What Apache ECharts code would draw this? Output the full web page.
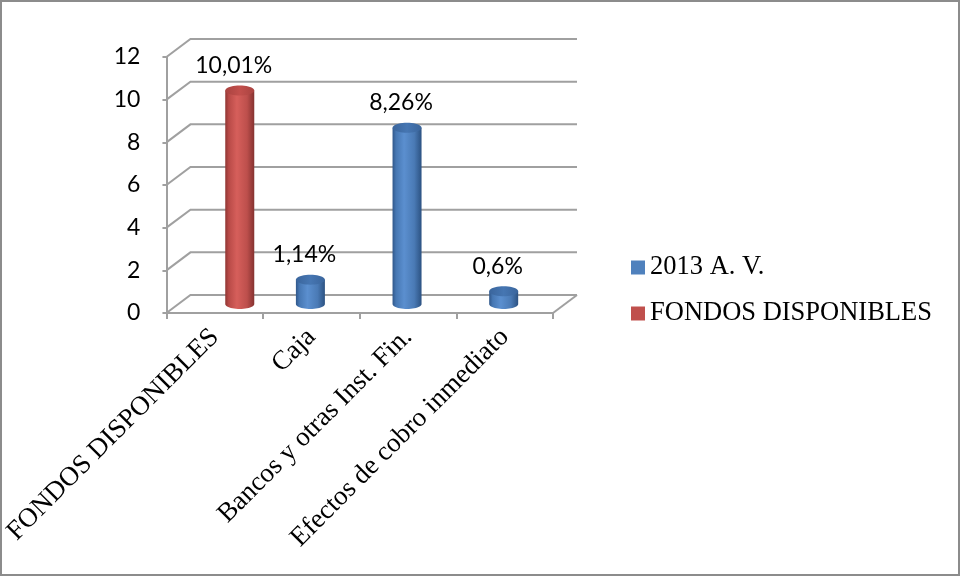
<!DOCTYPE html>
<html>
<head>
<meta charset="utf-8">
<script src="https://cdn.jsdelivr.net/npm/echarts@6/dist/echarts.min.js"></script>
<style>
  html, body { margin: 0; padding: 0; background: #fff; }
  #chart { width: 961px; height: 577px; }
</style>
</head>
<body>
<div id="chart"></div>
<script>
// ---- data ----
const categories = ['FONDOS DISPONIBLES', 'Caja', 'Bancos y otras Inst. Fin.', 'Efectos de cobro inmediato'];
const seriesNames = ['2013 A. V.', 'FONDOS DISPONIBLES'];
const blueValues = [null, 1.14, 8.26, 0.6];
const redValues = [10.01, null, null, null];
const yTicks = [0, 2, 4, 6, 8, 10, 12];

// ---- style constants ----
const DX = 24, DY = -18;          // 3D depth offset
const R = 14.5, RY = 5;           // cylinder radii
const GRIDC = '#a0a0a0';

function toPairs(vals) {
  const out = [];
  vals.forEach((v, i) => { if (v !== null) out.push([i, v]); });
  return out;
}
function fmt(v) { return String(v).replace('.', ',') + '%'; }

function ellipsePts(cx, cy, rx, ry, a0, a1, n) {
  const pts = [];
  for (let k = 0; k <= n; k++) {
    const a = a0 + (a1 - a0) * k / n;
    pts.push([cx + rx * Math.cos(a), cy + ry * Math.sin(a)]);
  }
  return pts;
}

function cylinder(slot, bodyStops, capColor, capEdge) {
  return function (params, api) {
    const iv = api.value(0), v = api.value(1);
    const p = api.coord([iv, v]);
    const p0 = api.coord([iv, 0]);
    const cx = p[0] + slot + DX / 2;
    const topY = p[1] + DY / 2;
    const botY = p0[1] + DY / 2;
    // bottom front arc: from left (PI) through the lowest point to right (0)
    const arc = ellipsePts(cx, botY, R, RY, Math.PI, 0, 24);
    const poly = [[cx - R, topY]].concat(arc).concat([[cx + R, topY]]);
    const cap = ellipsePts(cx, topY, R, RY, 0, Math.PI * 2, 40);
    return {
      type: 'group',
      children: [
        {
          type: 'polygon',
          shape: { points: poly },
          style: {
            fill: { type: 'linear', x: 0, y: 0, x2: 1, y2: 0, colorStops: bodyStops }
          }
        },
        {
          type: 'polygon',
          shape: { points: cap },
          style: {
            fill: { type: 'linear', x: 0, y: 0, x2: 1, y2: 0,
              colorStops: [{ offset: 0, color: capEdge }, { offset: 0.5, color: capColor }, { offset: 1, color: capEdge }] }
          }
        },
        {
          type: 'text',
          style: {
            text: fmt(v),
            x: cx - 6,
            y: topY - 25,
            align: 'center',
            verticalAlign: 'middle',
            fill: '#000',
            font: '23px Lato'
          }
        }
      ]
    };
  };
}

const blueStops = [
  { offset: 0, color: '#30578a' },
  { offset: 0.12, color: '#4677b3' },
  { offset: 0.4, color: '#5b8fcf' },
  { offset: 0.75, color: '#4a7ab5' },
  { offset: 1, color: '#2c5282' }
];
const redStops = [
  { offset: 0, color: '#8f3532' },
  { offset: 0.12, color: '#b84a47' },
  { offset: 0.4, color: '#d65f5b' },
  { offset: 0.75, color: '#bd4f4c' },
  { offset: 1, color: '#853230' }
];

const chart = echarts.init(document.getElementById('chart'));
chart.setOption({
  animation: false,
  backgroundColor: '#fff',
  graphic: [{
    type: 'rect',
    shape: { x: 1, y: 1, width: 958, height: 574 },
    style: { fill: 'none', stroke: '#8c8c8c', lineWidth: 2 },
    z: 100
  }],
  grid: { left: 166, top: 57, right: 408, bottom: 264, containLabel: false },
  legend: {
    orient: 'vertical',
    left: 631,
    top: 254,
    padding: 0,
    itemWidth: 14,
    itemHeight: 14,
    itemGap: 19,
    icon: 'rect',
    data: seriesNames,
    textStyle: { fontFamily: 'Liberation Serif', fontSize: 26.5, color: '#000', lineHeight: 27 }
  },
  xAxis: {
    type: 'category',
    data: categories,
    boundaryGap: true,
    axisLine: { show: true, lineStyle: { color: GRIDC, width: 2 } },
    axisTick: { show: true, length: 6, lineStyle: { color: GRIDC, width: 2 } },
    axisLabel: {
      rotate: 45,
      margin: 20,
      interval: 0,
      fontFamily: 'Liberation Serif',
      fontSize: 27,
      color: '#000'
    },
    splitLine: { show: false }
  },
  yAxis: {
    type: 'value',
    min: 0,
    max: 12,
    interval: 2,
    axisLine: { show: true, lineStyle: { color: GRIDC, width: 2 } },
    axisTick: { show: true, length: 4, lineStyle: { color: GRIDC, width: 2 } },
    axisLabel: { margin: 26, fontFamily: 'Lato', fontSize: 23, color: '#000' },
    splitLine: { show: false }
  },
  series: [
    {
      type: 'custom',
      name: 'walls',
      silent: true,
      z: 1,
      data: yTicks.map(t => [0, t]),
      encode: { x: 0, y: 1 },
      renderItem: function (params, api) {
        const cs = params.coordSys;
        const y = api.coord([0, api.value(1)])[1];
        const left = cs.x, right = cs.x + cs.width;
        const children = [{
          type: 'polyline',
          shape: { points: [[left, y], [left + DX, y + DY], [right + DX, y + DY]] },
          style: { stroke: GRIDC, lineWidth: 2, fill: 'none' }
        }];
        if (api.value(1) === 0) {
          children.push({
            type: 'line',
            shape: { x1: right, y1: y, x2: right + DX, y2: y + DY },
            style: { stroke: GRIDC, lineWidth: 2 }
          });
        }
        return { type: 'group', children: children };
      }
    },
    {
      type: 'custom',
      name: seriesNames[0],
      z: 3,
      itemStyle: { color: '#4f81bd' },
      data: toPairs(blueValues),
      encode: { x: 0, y: 1 },
      renderItem: cylinder(-13, blueStops, '#4676b2', '#3a659c')
    },
    {
      type: 'custom',
      name: seriesNames[1],
      z: 3,
      itemStyle: { color: '#c0504d' },
      data: toPairs(redValues),
      encode: { x: 0, y: 1 },
      renderItem: cylinder(13, redStops, '#c24f4c', '#a94340')
    }
  ]
});
</script>
</body>
</html>
